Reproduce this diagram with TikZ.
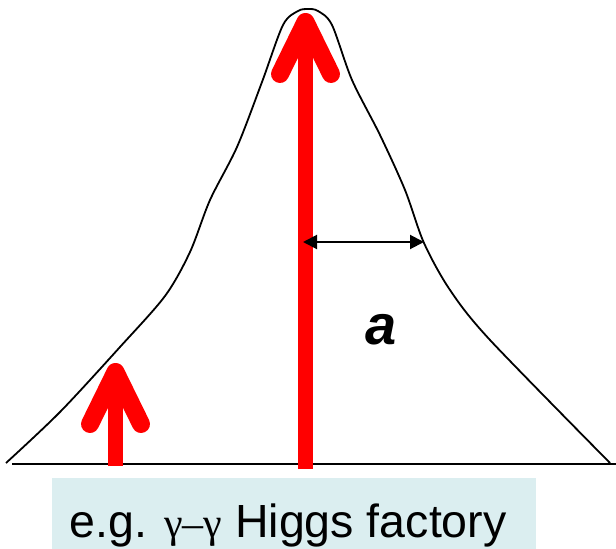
\documentclass[tikz,border=0pt]{standalone}
\usepackage{fontspec}
\setmainfont{Liberation Sans}
\newfontfamily\symfont{Liberation Serif}
\usetikzlibrary{arrows.meta}
\definecolor{boxcyan}{HTML}{DBEEF0}
\tikzset{
  curveline/.style={line width=1.8pt, black},
  baseline/.style={line width=2.4pt, black},
  redshaft/.style={line width=15pt, red},
  redhead/.style={line width=18pt, red, line cap=round, line join=round},
  widtharrow/.style={line width=2pt, black, {Triangle[length=14pt,width=14pt]}-{Triangle[length=14pt,width=14pt]}}
}
\begin{document}
\begin{tikzpicture}[x=1pt,y=-1pt]
\useasboundingbox (0,0) rectangle (616,549);
% caption box
\fill[boxcyan] (52,478) rectangle (536,549);
\node[anchor=base, inner sep=0pt, font=\fontsize{46.5}{52}\selectfont] (caption) at (288,537)
  {e.g. {\symfont\fontsize{42}{46}\selectfont γ–γ} Higgs factory};
% baseline
\coordinate (bl0) at (12,464);
\coordinate (bl1) at (616,464);
\draw[baseline] (bl0) -- (bl1);
% bell curve
\draw[curveline] plot[smooth, tension=0.5] coordinates {
 (6,463) (60,412) (120,347) (165,296) (190,252) (210,200) (237,147) (262,82)
 (283,25) (298,11) (308,9) (318,11) (332,25) (352,80) (380,135) (405,190)
 (424,243) (450,290) (490,340) (610,463)};
% big red arrow
\coordinate (bigbot) at (305.5,469);
\coordinate (bigtop) at (305.5,40);
\coordinate (bigtip) at (305.5,22);
\coordinate (bigl) at (280,74);
\coordinate (bigr) at (331,74);
\draw[redshaft] (bigbot) -- (bigtop);
\draw[redhead] (bigl) -- (bigtip) -- (bigr);
% small red arrow
\coordinate (smbot) at (115.5,466);
\coordinate (smtop) at (115.5,390);
\coordinate (smtip) at (115.5,372);
\coordinate (sml) at (90,424);
\coordinate (smr) at (141,424);
\draw[redshaft] (smbot) -- (smtop);
\draw[redhead] (sml) -- (smtip) -- (smr);
% width arrow
\coordinate (wa) at (303,242);
\coordinate (wb) at (424,242);
\draw[widtharrow] (wa) -- (wb);
% label a
\node[anchor=base, inner sep=0pt, font=\fontsize{56}{60}\selectfont\bfseries\itshape] (alabel) at (381,344) {a};
\end{tikzpicture}
\end{document}
